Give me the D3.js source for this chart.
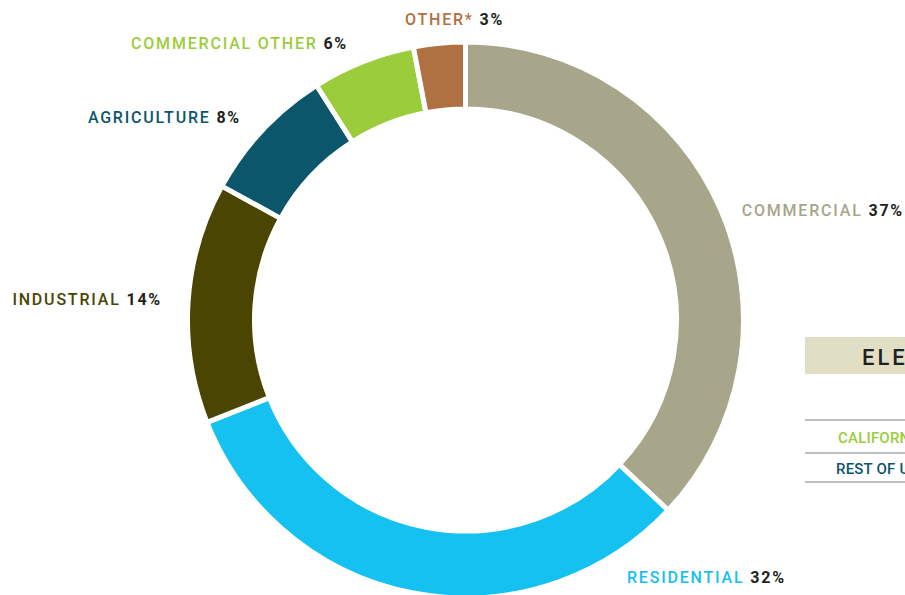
<!DOCTYPE html>
<html>
<head>
<meta charset="utf-8">
<script src="https://cdn.jsdelivr.net/npm/d3@7"></script>
<style>
  html, body { margin: 0; padding: 0; overflow: hidden; background: #fff; }
  svg { display: block; }
</style>
</head>
<body>
<svg id="chart" width="905" height="595"></svg>
<script>
// ---- data ----
const categories = ["COMMERCIAL", "RESIDENTIAL", "INDUSTRIAL", "AGRICULTURE", "COMMERCIAL OTHER", "OTHER*"];
const shares = [37, 32, 14, 8, 6, 3];
const colors = ["#A7A68A", "#15C1F1", "#4A4500", "#0C566B", "#9BCC3B", "#B07142"];
const legendTitle = "ELECTRICITY CONSUMPTION";
const legendRows = ["CALIFORNIA", "REST OF U.S."];
const legendRowColors = ["#9BCC3B", "#0C566B"];

// ---- layout (label placement, not data) ----
const labelLayout = [
  { anchor: "end",   x: 904, y: 216 },
  { anchor: "start", x: 627, y: 583 },
  { anchor: "end",   x: 162, y: 305 },
  { anchor: "end",   x: 241, y: 123 },
  { anchor: "end",   x: 348, y: 49 },
  { anchor: "start", x: 405, y: 25 }
];

const svg = d3.select("#chart");
const cx = 465.5, cy = 320;

const pie = d3.pie().sort(null).value(d => d.v);
const arc = d3.arc().innerRadius(211).outerRadius(278);
const data = categories.map((c, i) => ({ c, v: shares[i], color: colors[i] }));

const g = svg.append("g").attr("transform", `translate(${cx},${cy})`);
g.selectAll("path")
  .data(pie(data))
  .join("path")
  .attr("d", arc)
  .attr("fill", d => d.data.color)
  .attr("stroke", "#fff")
  .attr("stroke-width", 5)
  .attr("stroke-linejoin", "miter");

// labels
const labels = svg.append("g")
  .attr("font-family", "Roboto, 'DejaVu Sans', sans-serif")
  .attr("font-size", 16)
  .attr("font-weight", 500)
  .style("letter-spacing", "1.8px");

data.forEach((d, i) => {
  const L = labelLayout[i];
  const t = labels.append("text")
    .attr("x", L.x).attr("y", L.y)
    .attr("text-anchor", L.anchor);
  t.append("tspan").attr("fill", d.color).text(d.c + " ");
  t.append("tspan").attr("fill", "#231F20").attr("font-weight", 700).text(d.v + "%");
});

// partial legend panel on the right (clipped by viewport, as in the reference)
const lg = svg.append("g");
lg.append("rect").attr("x", 805).attr("y", 337).attr("width", 300).attr("height", 37).attr("fill", "#E0DFC6");
lg.append("text")
  .attr("x", 862).attr("y", 365)
  .attr("font-family", "Roboto, 'DejaVu Sans', sans-serif")
  .attr("font-size", 22).attr("font-weight", 500)
  .style("letter-spacing", "3px")
  .attr("fill", "#231F20")
  .text(legendTitle);

[420, 453, 482].forEach(y => {
  lg.append("line").attr("x1", 805).attr("x2", 1105).attr("y1", y).attr("y2", y)
    .attr("stroke", "#AAAAAA").attr("stroke-width", 1.5);
});
const rowX = [838, 836], rowY = [443, 474];
legendRows.forEach((r, i) => {
  lg.append("text")
    .attr("x", rowX[i]).attr("y", rowY[i])
    .attr("font-family", "Roboto, 'DejaVu Sans', sans-serif")
    .attr("font-size", 15).attr("font-weight", 500)
    .style("letter-spacing", "0.2px")
    .attr("fill", legendRowColors[i])
    .text(r);
});
</script>
</body>
</html>
